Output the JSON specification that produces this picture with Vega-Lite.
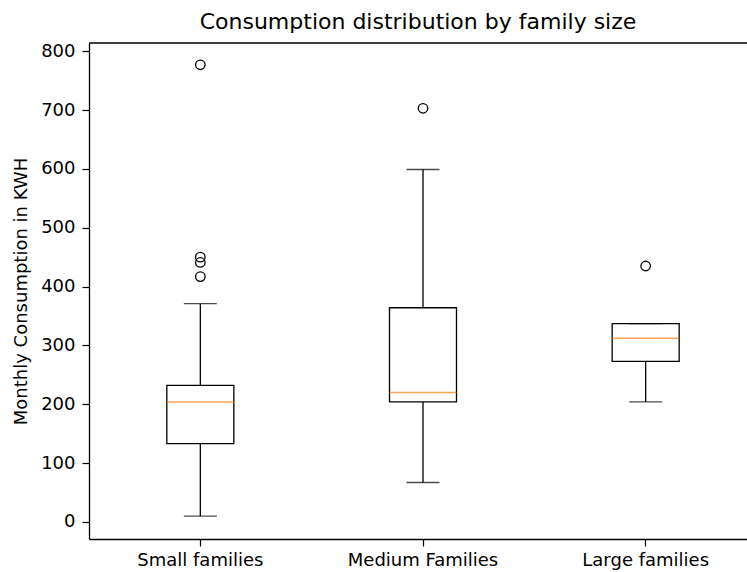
{
  "$schema": "https://vega.github.io/schema/vega-lite/v6.json",
  "width": 658,
  "height": 496,
  "autosize": {"type": "none"},
  "padding": {"left": 89, "top": 43, "right": 0, "bottom": 33},
  "background": "white",
  "title": {"text": "Consumption distribution by family size", "font": "DejaVu Sans", "fontSize": 22, "fontWeight": "normal", "color": "black", "offset": 8},
  "config": {
    "view": {"stroke": null},
    "axis": {"labelFont": "DejaVu Sans", "titleFont": "DejaVu Sans", "labelFontSize": 18, "titleFontSize": 18, "titleFontWeight": "normal", "labelColor": "black", "titleColor": "black", "tickColor": "black", "tickWidth": 1.2, "domain": true, "domainColor": "black", "domainWidth": 1.3, "grid": false, "tickSize": 7}
  },
  "datasets": {
    "boxes": [
      {"group": "Small families", "low": 10, "q1": 133, "median": 204, "q3": 232, "high": 371},
      {"group": "Medium Families", "low": 67, "q1": 204, "median": 220, "q3": 364, "high": 599},
      {"group": "Large families", "low": 204, "q1": 273, "median": 312, "q3": 337, "high": 337}
    ],
    "outliers": [
      {"group": "Small families", "value": 777},
      {"group": "Small families", "value": 450},
      {"group": "Small families", "value": 441},
      {"group": "Small families", "value": 417},
      {"group": "Medium Families", "value": 703},
      {"group": "Large families", "value": 435}
    ],
    "frame": [{"top": 814}]
  },
  "encoding": {
    "x": {"field": "group", "type": "nominal", "sort": ["Small families", "Medium Families", "Large families"],
      "scale": {"paddingInner": 0, "paddingOuter": 0, "range": [0, 668]},
      "axis": {"title": null, "labelAngle": 0, "labelPadding": 5}}
  },
  "layer": [
    {
      "data": {"name": "boxes"},
      "mark": {"type": "rule", "color": "black", "strokeWidth": 1.3},
      "encoding": {
        "y": {"field": "low", "type": "quantitative", "scale": {"domain": [-29, 814], "nice": false, "zero": false},
          "axis": {"title": "Monthly Consumption in KWH", "values": [0,100,200,300,400,500,600,700,800], "labelPadding": 7, "titlePadding": 10}},
        "y2": {"field": "q1"}
      }
    },
    {
      "data": {"name": "boxes"},
      "mark": {"type": "rule", "color": "black", "strokeWidth": 1.3},
      "encoding": {"y": {"field": "q3", "type": "quantitative"}, "y2": {"field": "high"}}
    },
    {
      "data": {"name": "boxes"},
      "mark": {"type": "bar", "fill": "white", "stroke": "black", "strokeWidth": 1.3, "size": 67},
      "encoding": {"y": {"field": "q1", "type": "quantitative"}, "y2": {"field": "q3"}}
    },
    {
      "data": {"name": "boxes"},
      "mark": {"type": "tick", "color": "black", "size": 33, "thickness": 1.3},
      "encoding": {"y": {"field": "low", "type": "quantitative"}}
    },
    {
      "data": {"name": "boxes"},
      "mark": {"type": "tick", "color": "black", "size": 33, "thickness": 1.3},
      "encoding": {"y": {"field": "high", "type": "quantitative"}}
    },
    {
      "data": {"name": "boxes"},
      "mark": {"type": "tick", "color": "#ff7f0e", "size": 67, "thickness": 1.5},
      "encoding": {"y": {"field": "median", "type": "quantitative"}}
    },
    {
      "data": {"name": "outliers"},
      "mark": {"type": "point", "shape": "circle", "filled": false, "stroke": "black", "strokeWidth": 1.3, "size": 90, "opacity": 1},
      "encoding": {"y": {"field": "value", "type": "quantitative"}}
    },
    {
      "data": {"name": "frame"},
      "mark": {"type": "rule", "color": "black", "strokeWidth": 1.3},
      "encoding": {"x": {"value": 0}, "x2": {"value": 658}, "y": {"field": "top", "type": "quantitative"}}
    }
  ]
}
